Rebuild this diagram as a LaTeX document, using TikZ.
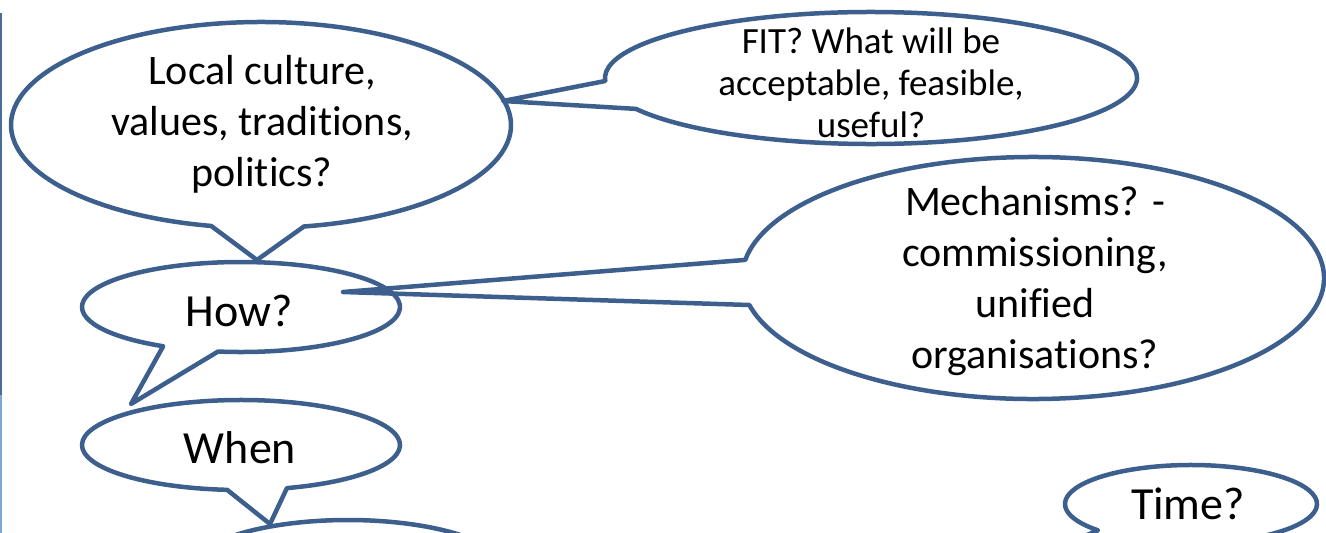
\documentclass[tikz,border=0pt]{standalone}
\usepackage{fontspec}
\setmainfont{Carlito}[Ligatures={NoCommon}]
\usetikzlibrary{calc}
\definecolor{edge}{HTML}{3C5F8E}
\definecolor{barA}{HTML}{4A6E98}
\definecolor{barB}{HTML}{79A7D6}
\begin{document}
\begin{tikzpicture}[x=1pt,y=-1pt,
  callout/.style={draw=edge,line width=4.5pt,line join=round},
  bigtxt/.style={inner sep=0pt,align=center,font=\fontsize{42}{51}\selectfont},
  hugetxt/.style={inner sep=0pt,align=center,font=\fontsize{46}{55}\selectfont},
  midtxt/.style={inner sep=0pt,align=center,font=\fontsize{37}{42}\selectfont}]
\useasboundingbox (0,0) rectangle (1326,533);
\clip (0,0) rectangle (1326,533);
% left bar
\draw[barA,line width=2pt] (1,13) -- (1,395);
\draw[barB,line width=2pt] (1,395) -- (1,533);
% centres and tips
\coordinate (cA) at (261,125);
\coordinate (tA) at (257,260);
\coordinate (cB) at (871,78);
\coordinate (tB) at (503,101);
\coordinate (cC) at (241,307);
\coordinate (tC) at (131,404);
\coordinate (cD) at (1033,278);
\coordinate (tD) at (343,292);
\coordinate (cE) at (241,445);
\coordinate (tE) at (270,524);
\coordinate (cF) at (348,572);
\coordinate (cG) at (1191,504);
\coordinate (tG) at (1030,560);
% callouts
\draw[callout] ($(cA)+(279.9:250pt and 103pt)$) arc[start angle=279.9,end angle=618.5,x radius=250pt,y radius=103pt] -- (tA) -- cycle;
\draw[callout] ($(cB)+(207.9:266pt and 66pt)$) arc[start angle=207.9,end angle=542.6,x radius=266pt,y radius=66pt] -- (tB) -- cycle;
\draw[callout] ($(cD)+(192.9:291pt and 121pt)$) arc[start angle=192.9,end angle=531.4,x radius=291pt,y radius=121pt] -- (tD) -- cycle;
\draw[callout] ($(cC)+(261.7:159pt and 45pt)$) arc[start angle=261.7,end angle=600.7,x radius=159pt,y radius=45pt] -- (tC) -- cycle;
\draw[callout] ($(cE)+(286.8:159pt and 45pt)$) arc[start angle=286.8,end angle=625,x radius=159pt,y radius=45pt] -- (tE) -- cycle;
\draw[callout] (cF) ellipse[x radius=160pt,y radius=52pt];
\draw[callout] ($(cG)+(246:126pt and 39pt)$) arc[start angle=246,end angle=582.4,x radius=126pt,y radius=39pt] -- (tG) -- cycle;
% texts
\node[midtxt] (fit) at (871,83) {FIT? What will be\\acceptable, feasible,\\useful?};
\node[bigtxt] (local) at (262,124) {Local culture,\\values, traditions,\\politics?};
\node[hugetxt] (how) at (239,311) {How?};
\node[bigtxt] (mech) at (1035,281) {Mechanisms? -\\commissioning,\\unified\\organisations?};
\node[hugetxt] (when) at (240,448) {When};
\node[hugetxt] (time) at (1188,504) {Time?};
\end{tikzpicture}
\end{document}
